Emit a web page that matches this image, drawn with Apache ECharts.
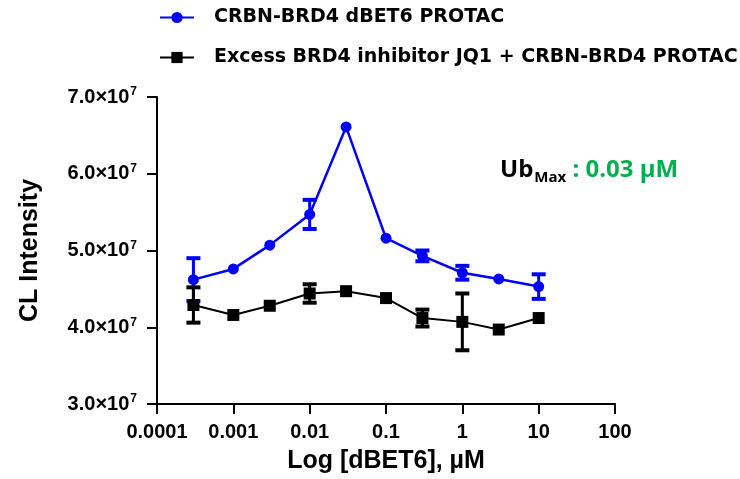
<!DOCTYPE html>
<html>
<head>
<meta charset="utf-8">
<script src="https://cdn.jsdelivr.net/npm/echarts@6/dist/echarts.min.js"></script>
<style>
  html, body { margin: 0; padding: 0; background: #fff; }
  #chart { width: 740px; height: 479px; }
</style>
</head>
<body>
<div id="chart"></div>
<script>
// 浓度 (µM)
const conc = [0.0003, 0.001, 0.003, 0.01, 0.03, 0.1, 0.3, 1, 3, 10]
// CRBN-BRD4 dBET6 PROTAC
const blueVals = [4.62e7, 4.76e7, 5.07e7, 5.47e7, 6.61e7, 5.16e7, 4.93e7, 4.71e7, 4.63e7, 4.53e7]
const blueErr = [0.28e7, 0, 0, 0.19e7, 0, 0, 0.07e7, 0.09e7, 0, 0.16e7]
// Excess BRD4 inhibitor JQ1 + CRBN-BRD4 PROTAC
const blackVals = [4.29e7, 4.16e7, 4.28e7, 4.44e7, 4.47e7, 4.38e7, 4.12e7, 4.07e7, 3.97e7, 4.12e7]
const blackErr = [0.23e7, 0, 0, 0.12e7, 0, 0, 0.11e7, 0.37e7, 0, 0]

const seriesNames = ['CRBN-BRD4 dBET6 PROTAC', 'Excess BRD4 inhibitor JQ1 + CRBN-BRD4 PROTAC']
const xTickLabels = ['0.0001', '0.001', '0.01', '0.1', '1', '10', '100']
const yTickLabels = ['3.0', '4.0', '5.0', '6.0', '7.0']

const font = 'Liberation Sans, Arial, sans-serif'

const chart = echarts.init(document.getElementById('chart'))

function errData(vals, err) {
  return conc.map((x, i) => [x, vals[i] - err[i], vals[i] + err[i]])
}

// 误差线
function errorBar(color) {
  return function(params, api) {
    const x = api.value(0)
    const lo = api.coord([x, api.value(1)])
    const hi = api.coord([x, api.value(2)])
    if (hi[1] === lo[1]) return null
    const w = 7
    return {
      type: 'group',
      children: [
        { type: 'line', shape: { x1: lo[0], y1: lo[1], x2: hi[0], y2: hi[1] }, style: { stroke: color, lineWidth: 3 } },
        { type: 'line', shape: { x1: hi[0] - w, y1: hi[1], x2: hi[0] + w, y2: hi[1] }, style: { stroke: color, lineWidth: 4 } },
        { type: 'line', shape: { x1: lo[0] - w, y1: lo[1], x2: lo[0] + w, y2: lo[1] }, style: { stroke: color, lineWidth: 4 } }
      ]
    }
  }
}

const option = {
  animation: false,
  grid: { left: 157, right: 125, top: 97, bottom: 75 },
  legend: {
    orient: 'vertical',
    left: 154,
    top: 3,
    itemWidth: 34,
    itemHeight: 14,
    itemGap: 21,
    data: seriesNames,
    textStyle: { fontFamily: 'DejaVu Sans', fontWeight: 'bold', fontSize: 19, color: '#000', padding: [0, 0, 0, 15] }
  },
  xAxis: {
    type: 'log',
    logBase: 10,
    min: 0.0001,
    max: 100,
    name: 'Log [dBET6], µM',
    nameLocation: 'middle',
    nameGap: 45,
    nameTextStyle: { fontFamily: font, fontWeight: 'bold', fontSize: 25, color: '#000' },
    axisLine: { lineStyle: { color: '#000', width: 2 } },
    axisTick: { length: 10, lineStyle: { color: '#000', width: 2 } },
    minorTick: { show: false },
    splitLine: { show: false },
    axisLabel: {
      margin: 18,
      color: '#000',
      fontFamily: font,
      fontWeight: 'bold',
      fontSize: 20,
      formatter: v => xTickLabels[Math.round(Math.log10(v)) + 4]
    }
  },
  yAxis: {
    type: 'value',
    min: 3e7,
    max: 7e7,
    interval: 1e7,
    name: 'CL Intensity',
    nameLocation: 'middle',
    nameGap: 114,
    nameTextStyle: { fontFamily: font, fontWeight: 'bold', fontSize: 25, color: '#000' },
    axisLine: { show: true, lineStyle: { color: '#000', width: 2 } },
    axisTick: { show: true, length: 10, lineStyle: { color: '#000', width: 2 } },
    splitLine: { show: false },
    axisLabel: {
      margin: 20,
      formatter: v => '{m|' + yTickLabels[Math.round(v / 1e7) - 3] + '×10}{e|7}',
      rich: {
        m: { fontFamily: font, fontWeight: 'bold', fontSize: 20, color: '#000' },
        e: { fontFamily: font, fontWeight: 'bold', fontSize: 12, color: '#000', verticalAlign: 'top', padding: [0, 0, 10, 1] }
      }
    }
  },
  graphic: [
    {
      type: 'text',
      left: 500,
      top: 158,
      style: {
        text: '{a|Ub}{b|Max}{c| : 0.03 µM}',
        rich: {
          a: { fontFamily: 'Open Sans', fontWeight: 'bold', fontSize: 24, fill: '#000' },
          b: { fontFamily: 'Open Sans', fontWeight: 'bold', fontSize: 15, fill: '#000', padding: [16, 0, 0, 1] },
          c: { fontFamily: 'Open Sans', fontWeight: 'bold', fontSize: 24, fill: '#00b050' }
        }
      }
    }
  ],
  series: [
    {
      name: seriesNames[0],
      type: 'line',
      data: conc.map((x, i) => [x, blueVals[i]]),
      symbol: 'circle',
      symbolSize: 11,
      color: '#0000ff',
      lineStyle: { color: '#0000ff', width: 2.5 },
      itemStyle: { color: '#0000ff' },
      z: 3
    },
    {
      name: seriesNames[0] + ' err',
      type: 'custom',
      renderItem: errorBar('#0000ff'),
      data: errData(blueVals, blueErr),
      encode: { x: 0, y: [1, 2] },
      z: 3
    },
    {
      name: seriesNames[1],
      type: 'line',
      data: conc.map((x, i) => [x, blackVals[i]]),
      symbol: 'rect',
      symbolSize: 12,
      color: '#000',
      lineStyle: { color: '#000', width: 2 },
      itemStyle: { color: '#000' },
      z: 4
    },
    {
      name: seriesNames[1] + ' err',
      type: 'custom',
      renderItem: errorBar('#000'),
      data: errData(blackVals, blackErr),
      encode: { x: 0, y: [1, 2] },
      z: 4
    }
  ]
}

chart.setOption(option)
</script>
</body>
</html>
